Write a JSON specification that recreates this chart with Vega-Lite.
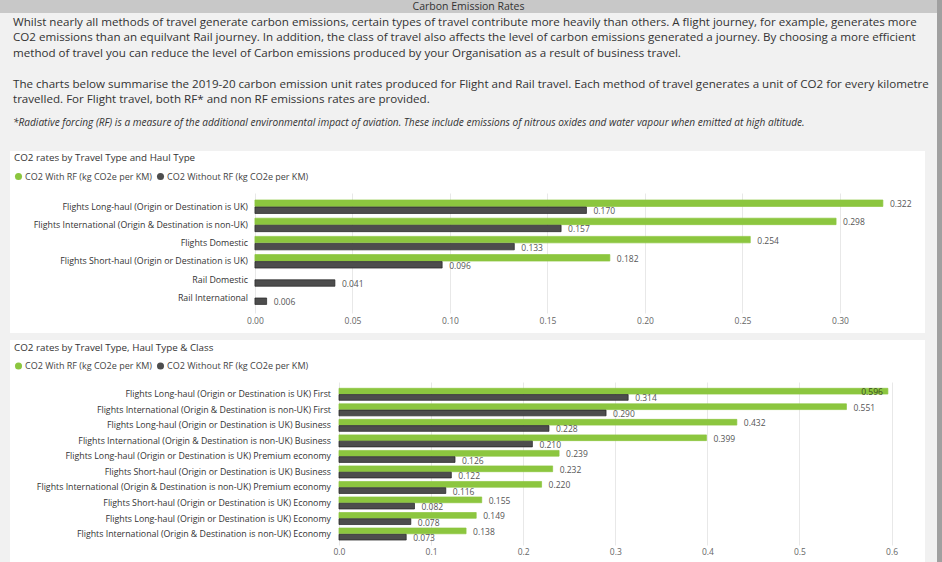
{
  "$schema": "https://vega.github.io/schema/vega-lite/v6.json",
  "background": "white",
  "padding": 0,
  "config": {"font": "Open Sans", "view": {"stroke": null}},
  "datasets": {
    "para": [
      {"line": 1, "text": "Whilst nearly all methods of travel generate carbon emissions, certain types of travel contribute more heavily than others. A flight journey, for example, generates more"},
      {"line": 2, "text": "CO2 emissions than an equilvant Rail journey. In addition, the class of travel also affects the level of carbon emissions generated a journey. By choosing a more efficient"},
      {"line": 3, "text": "method of travel you can reduce the level of Carbon emissions produced by your Organisation as a result of business travel."},
      {"line": 5, "text": "The charts below summarise the 2019-20 carbon emission unit rates produced for Flight and Rail travel. Each method of travel generates a unit of CO2 for every kilometre"},
      {"line": 6, "text": "travelled. For Flight travel, both RF* and non RF emissions rates are provided."}
    ],
    "note": [
      {"line": 7.5, "text": "*Radiative forcing (RF) is a measure of the additional environmental impact of aviation. These include emissions of nitrous oxides and water vapour when emitted at high altitude."}
    ],
    "blank": [{"blank": ""}],
    "rates1": [
      {"cat": "Flights Long-haul (Origin or Destination is UK)", "series": "CO2 With RF (kg CO2e per KM)", "value": 0.322},
      {"cat": "Flights Long-haul (Origin or Destination is UK)", "series": "CO2 Without RF (kg CO2e per KM)", "value": 0.170},
      {"cat": "Flights International (Origin & Destination is non-UK)", "series": "CO2 With RF (kg CO2e per KM)", "value": 0.298},
      {"cat": "Flights International (Origin & Destination is non-UK)", "series": "CO2 Without RF (kg CO2e per KM)", "value": 0.157},
      {"cat": "Flights Domestic", "series": "CO2 With RF (kg CO2e per KM)", "value": 0.254},
      {"cat": "Flights Domestic", "series": "CO2 Without RF (kg CO2e per KM)", "value": 0.133},
      {"cat": "Flights Short-haul (Origin or Destination is UK)", "series": "CO2 With RF (kg CO2e per KM)", "value": 0.182},
      {"cat": "Flights Short-haul (Origin or Destination is UK)", "series": "CO2 Without RF (kg CO2e per KM)", "value": 0.096},
      {"cat": "Rail Domestic", "series": "CO2 Without RF (kg CO2e per KM)", "value": 0.041},
      {"cat": "Rail International", "series": "CO2 Without RF (kg CO2e per KM)", "value": 0.006}
    ],
    "rates2": [
      {"cat": "Flights Long-haul (Origin or Destination is UK) First", "series": "CO2 With RF (kg CO2e per KM)", "value": 0.596},
      {"cat": "Flights Long-haul (Origin or Destination is UK) First", "series": "CO2 Without RF (kg CO2e per KM)", "value": 0.314},
      {"cat": "Flights International (Origin & Destination is non-UK) First", "series": "CO2 With RF (kg CO2e per KM)", "value": 0.551},
      {"cat": "Flights International (Origin & Destination is non-UK) First", "series": "CO2 Without RF (kg CO2e per KM)", "value": 0.290},
      {"cat": "Flights Long-haul (Origin or Destination is UK) Business", "series": "CO2 With RF (kg CO2e per KM)", "value": 0.432},
      {"cat": "Flights Long-haul (Origin or Destination is UK) Business", "series": "CO2 Without RF (kg CO2e per KM)", "value": 0.228},
      {"cat": "Flights International (Origin & Destination is non-UK) Business", "series": "CO2 With RF (kg CO2e per KM)", "value": 0.399},
      {"cat": "Flights International (Origin & Destination is non-UK) Business", "series": "CO2 Without RF (kg CO2e per KM)", "value": 0.210},
      {"cat": "Flights Long-haul (Origin or Destination is UK) Premium economy", "series": "CO2 With RF (kg CO2e per KM)", "value": 0.239},
      {"cat": "Flights Long-haul (Origin or Destination is UK) Premium economy", "series": "CO2 Without RF (kg CO2e per KM)", "value": 0.126},
      {"cat": "Flights Short-haul (Origin or Destination is UK) Business", "series": "CO2 With RF (kg CO2e per KM)", "value": 0.232},
      {"cat": "Flights Short-haul (Origin or Destination is UK) Business", "series": "CO2 Without RF (kg CO2e per KM)", "value": 0.122},
      {"cat": "Flights International (Origin & Destination is non-UK) Premium economy", "series": "CO2 With RF (kg CO2e per KM)", "value": 0.220},
      {"cat": "Flights International (Origin & Destination is non-UK) Premium economy", "series": "CO2 Without RF (kg CO2e per KM)", "value": 0.116},
      {"cat": "Flights Short-haul (Origin or Destination is UK) Economy", "series": "CO2 With RF (kg CO2e per KM)", "value": 0.155},
      {"cat": "Flights Short-haul (Origin or Destination is UK) Economy", "series": "CO2 Without RF (kg CO2e per KM)", "value": 0.082},
      {"cat": "Flights Long-haul (Origin or Destination is UK) Economy", "series": "CO2 With RF (kg CO2e per KM)", "value": 0.149},
      {"cat": "Flights Long-haul (Origin or Destination is UK) Economy", "series": "CO2 Without RF (kg CO2e per KM)", "value": 0.078},
      {"cat": "Flights International (Origin & Destination is non-UK) Economy", "series": "CO2 With RF (kg CO2e per KM)", "value": 0.138},
      {"cat": "Flights International (Origin & Destination is non-UK) Economy", "series": "CO2 Without RF (kg CO2e per KM)", "value": 0.073}
    ]
  },
  "spacing": 0,
  "hconcat": [
    {
      "spacing": 0,
      "vconcat": [
        {
          "width": 937,
          "height": 13,
          "view": {"fill": "#c8c8c8", "stroke": null},
          "data": {"values": [{"title": "Carbon Emission Rates"}]},
          "mark": {"type": "text", "fontSize": 10.5, "color": "#333333"},
          "encoding": {"text": {"field": "title"}}
        },
        {
          "width": 937,
          "height": 138,
          "view": {"fill": "#f1f1f1", "stroke": null},
          "layer": [
            {
              "data": {"name": "para"},
              "mark": {"type": "text", "align": "left", "baseline": "middle", "dx": 13, "fontSize": 11.6, "color": "#333333"},
              "encoding": {
                "x": {"datum": 0, "type": "quantitative", "scale": {"domain": [0, 1]}, "axis": null},
                "y": {"field": "line", "type": "quantitative", "scale": {"domain": [0.38, 9.28], "reverse": true, "nice": false, "zero": false}, "axis": null},
                "text": {"field": "text"}
              }
            },
            {
              "data": {"name": "note"},
              "mark": {"type": "text", "align": "left", "baseline": "middle", "dx": 13, "fontSize": 10.1, "fontStyle": "italic", "color": "#333333"},
              "encoding": {
                "x": {"datum": 0, "type": "quantitative"},
                "y": {"field": "line", "type": "quantitative"},
                "text": {"field": "text"}
              }
            }
          ]
        },
        {
          "spacing": 0,
          "hconcat": [
            {
              "width": 10, "height": 411,
              "view": {"fill": "#f1f1f1", "stroke": null},
              "data": {"name": "blank"}, "mark": {"type": "text"}, "encoding": {"text": {"field": "blank"}}
            },
            {
              "spacing": 0,
              "bounds": "flush",
              "resolve": {"scale": {"color": "independent", "yOffset": "independent"}, "legend": {"color": "independent"}},
              "vconcat": [
                {
                  "width": 915, "height": 42,
                  "data": {"name": "blank"}, "mark": {"type": "text"}, "encoding": {"text": {"field": "blank"}}
                },
                {
                  "width": 915,
                  "height": 120,
                  "layer": [
                    {
                      "data": {"name": "rates1"},
                      "mark": {"type": "bar", "strokeWidth": 0.7},
                      "encoding": {
                        "y": {
                          "field": "cat", "type": "nominal", "axis": null,
                          "scale": {
                            "domain": ["Flights Long-haul (Origin or Destination is UK)", "Flights International (Origin & Destination is non-UK)", "Flights Domestic", "Flights Short-haul (Origin or Destination is UK)", "Rail Domestic", "Rail International"],
                            "paddingInner": 0.26, "paddingOuter": 0.427, "align": 0.45
                          }
                        },
                        "yOffset": {"field": "series", "type": "nominal", "scale": {"domain": ["CO2 With RF (kg CO2e per KM)", "CO2 Without RF (kg CO2e per KM)"], "paddingInner": 0.08}},
                        "x": {
                          "field": "value", "type": "quantitative",
                          "scale": {"domain": [-0.1256, 0.3436], "nice": false, "zero": false},
                          "axis": {"values": [0, 0.05, 0.1, 0.15, 0.2, 0.25, 0.3], "format": ".2f", "grid": true, "gridColor": "#e8e8e8", "domain": false, "ticks": false, "labelFontSize": 8.5, "labelColor": "#666666", "labelPadding": 3.5, "title": null}
                        },
                        "color": {
                          "field": "series", "type": "nominal",
                          "scale": {"domain": ["CO2 With RF (kg CO2e per KM)", "CO2 Without RF (kg CO2e per KM)"], "range": ["#8cc63f", "#4d4d4d"]},
                          "legend": {"orient": "none", "legendX": 4, "legendY": -40, "direction": "horizontal", "title": "CO2 rates by Travel Type and Haul Type", "titleFontSize": 9.8, "titleFontWeight": "normal", "titleColor": "#333333", "titleLimit": 600, "titlePadding": 9, "labelFontSize": 9, "labelColor": "#444444", "labelLimit": 400, "symbolType": "circle", "symbolSize": 50, "symbolStrokeWidth": 0, "columnPadding": 4, "labelOffset": 2, "padding": 0}
                        },
                        "stroke": {"condition": {"test": "datum.series === 'CO2 Without RF (kg CO2e per KM)'", "value": "#222222"}, "value": "#8cc63f"}
                      }
                    },
                    {
                      "data": {"name": "rates1"},
                      "mark": {"type": "text", "align": "left", "baseline": "middle", "dx": 7, "dy": 1, "fontSize": 8.5, "color": "#555555"},
                      "encoding": {
                        "y": {"field": "cat", "type": "nominal"},
                        "yOffset": {"field": "series", "type": "nominal"},
                        "x": {"field": "value", "type": "quantitative"},
                        "text": {"field": "value", "type": "quantitative", "format": ".3f"}
                      }
                    },
                    {
                      "data": {"name": "rates1"},
                      "transform": [{"filter": "datum.series === 'CO2 Without RF (kg CO2e per KM)'"}],
                      "mark": {"type": "text", "align": "right", "baseline": "middle", "dx": -7, "fontSize": 8.8, "color": "#333333"},
                      "encoding": {
                        "y": {"field": "cat", "type": "nominal"},
                        "x": {"datum": 0, "type": "quantitative"},
                        "text": {"field": "cat"}
                      }
                    }
                  ]
                },
                {
                  "width": 915, "height": 20,
                  "data": {"name": "blank"}, "mark": {"type": "text"}, "encoding": {"text": {"field": "blank"}}
                },
                {
                  "width": 915, "height": 7,
                  "view": {"fill": "#f1f1f1", "stroke": null},
                  "data": {"name": "blank"}, "mark": {"type": "text"}, "encoding": {"text": {"field": "blank"}}
                },
                {
                  "width": 915, "height": 42,
                  "data": {"name": "blank"}, "mark": {"type": "text"}, "encoding": {"text": {"field": "blank"}}
                },
                {
                  "width": 915,
                  "height": 163,
                  "layer": [
                    {
                      "data": {"name": "rates2"},
                      "mark": {"type": "bar", "strokeWidth": 0.7},
                      "encoding": {
                        "y": {
                          "field": "cat", "type": "nominal", "axis": null,
                          "scale": {
                            "domain": ["Flights Long-haul (Origin or Destination is UK) First", "Flights International (Origin & Destination is non-UK) First", "Flights Long-haul (Origin or Destination is UK) Business", "Flights International (Origin & Destination is non-UK) Business", "Flights Long-haul (Origin or Destination is UK) Premium economy", "Flights Short-haul (Origin or Destination is UK) Business", "Flights International (Origin & Destination is non-UK) Premium economy", "Flights Short-haul (Origin or Destination is UK) Economy", "Flights Long-haul (Origin or Destination is UK) Economy", "Flights International (Origin & Destination is non-UK) Economy"],
                            "paddingInner": 0.226, "paddingOuter": 0.363, "align": 0.56
                          }
                        },
                        "yOffset": {"field": "series", "type": "nominal", "scale": {"domain": ["CO2 With RF (kg CO2e per KM)", "CO2 Without RF (kg CO2e per KM)"], "paddingInner": 0.08}},
                        "x": {
                          "field": "value", "type": "quantitative",
                          "scale": {"domain": [-0.3572, 0.6363], "nice": false, "zero": false},
                          "axis": {"values": [0, 0.1, 0.2, 0.3, 0.4, 0.5, 0.6], "format": ".1f", "grid": true, "gridColor": "#e8e8e8", "domain": false, "ticks": false, "labelFontSize": 8.5, "labelColor": "#666666", "labelPadding": 2.5, "title": null}
                        },
                        "color": {
                          "field": "series", "type": "nominal",
                          "scale": {"domain": ["CO2 With RF (kg CO2e per KM)", "CO2 Without RF (kg CO2e per KM)"], "range": ["#8cc63f", "#4d4d4d"]},
                          "legend": {"orient": "none", "legendX": 4, "legendY": -39.5, "direction": "horizontal", "title": "CO2 rates by Travel Type, Haul Type & Class", "titleFontSize": 9.8, "titleFontWeight": "normal", "titleColor": "#333333", "titleLimit": 600, "titlePadding": 9, "labelFontSize": 9, "labelColor": "#444444", "labelLimit": 400, "symbolType": "circle", "symbolSize": 50, "symbolStrokeWidth": 0, "columnPadding": 4, "labelOffset": 2, "padding": 0}
                        },
                        "stroke": {"condition": {"test": "datum.series === 'CO2 Without RF (kg CO2e per KM)'", "value": "#222222"}, "value": "#8cc63f"}
                      }
                    },
                    {
                      "data": {"name": "rates2"},
                      "transform": [{"filter": "datum.value < 0.58"}],
                      "mark": {"type": "text", "align": "left", "baseline": "middle", "dx": 7, "dy": 1, "fontSize": 8.5, "color": "#555555"},
                      "encoding": {
                        "y": {"field": "cat", "type": "nominal"},
                        "yOffset": {"field": "series", "type": "nominal"},
                        "x": {"field": "value", "type": "quantitative"},
                        "text": {"field": "value", "type": "quantitative", "format": ".3f"}
                      }
                    },
                    {
                      "data": {"name": "rates2"},
                      "transform": [{"filter": "datum.value >= 0.58"}],
                      "mark": {"type": "text", "align": "right", "baseline": "middle", "dx": -5, "dy": 1, "fontSize": 8.5, "color": "#3a4a20"},
                      "encoding": {
                        "y": {"field": "cat", "type": "nominal"},
                        "yOffset": {"field": "series", "type": "nominal"},
                        "x": {"field": "value", "type": "quantitative"},
                        "text": {"field": "value", "type": "quantitative", "format": ".3f"}
                      }
                    },
                    {
                      "data": {"name": "rates2"},
                      "transform": [{"filter": "datum.series === 'CO2 Without RF (kg CO2e per KM)'"}],
                      "mark": {"type": "text", "align": "right", "baseline": "middle", "dx": -8, "fontSize": 8.8, "color": "#333333"},
                      "encoding": {
                        "y": {"field": "cat", "type": "nominal"},
                        "x": {"datum": 0, "type": "quantitative"},
                        "text": {"field": "cat"}
                      }
                    }
                  ]
                },
                {
                  "width": 915, "height": 17,
                  "data": {"name": "blank"}, "mark": {"type": "text"}, "encoding": {"text": {"field": "blank"}}
                }
              ]
            },
            {
              "width": 12, "height": 411,
              "view": {"fill": "#f1f1f1", "stroke": null},
              "data": {"name": "blank"}, "mark": {"type": "text"}, "encoding": {"text": {"field": "blank"}}
            }
          ]
        }
      ]
    },
    {
      "width": 5,
      "height": 562,
      "view": {"fill": "#a0a0a0", "stroke": null},
      "data": {"name": "blank"}, "mark": {"type": "text"}, "encoding": {"text": {"field": "blank"}}
    }
  ]
}
